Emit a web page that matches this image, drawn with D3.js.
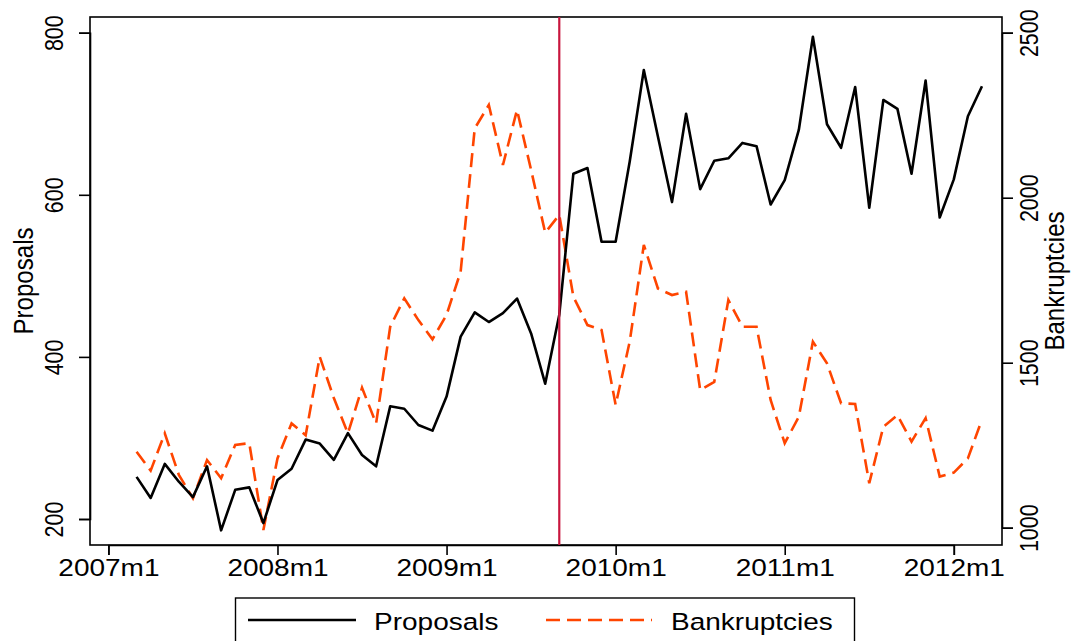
<!DOCTYPE html>
<html>
<head>
<meta charset="utf-8">
<script src="https://cdn.jsdelivr.net/npm/d3@7"></script>
<style>
  body { margin: 0; background: #fff; }
  text { font-family: "Liberation Sans", Arial, sans-serif; fill: #000; }
</style>
</head>
<body>
<svg id="chart" width="1076" height="641"></svg>
<script>

// monthly series, 2007m3 .. 2012m3
var startMonth = 2;   // months after 2007m1
var proposals = [252, 226, 268, 246, 227, 265, 186, 236, 239, 195,
  248, 262, 298, 293, 273, 306, 279, 265, 339, 336,
  316, 309, 351, 425, 455, 443, 454, 472, 429, 367,
  452, 626, 633, 542, 542, 641, 754, 672, 591, 700,
  607, 642, 645, 664, 660, 588, 618, 680, 795, 687,
  658, 733, 584, 717, 706, 626, 741, 572, 619, 697, 734];
var bankruptcies = [1230, 1173, 1286, 1160, 1089, 1205, 1150, 1251, 1256, 993,
  1210, 1316, 1280, 1518, 1393, 1286, 1424, 1316, 1609, 1695,
  1629, 1571, 1645, 1776, 2210, 2281, 2099, 2266, 2084, 1894,
  1948, 1700, 1614, 1599, 1372, 1564, 1857, 1725, 1705, 1715,
  1417, 1442, 1690, 1609, 1609, 1387, 1256, 1336, 1564, 1498,
  1377, 1375, 1135, 1306, 1341, 1261, 1332, 1155, 1167, 1210, 1328];
var yearTicks = [0, 12, 24, 36, 48, 60];
var yearLabels = ["2007m1", "2008m1", "2009m1", "2010m1", "2011m1", "2012m1"];
var leftTicks = [200, 400, 600, 800];
var rightTicks = [1000, 1500, 2000, 2500];
var eventMonth = 32;  // 2009m9

var months = d3.range(proposals.length).map(function(i) { return startMonth + i; });

var svg = d3.select("#chart");
var pLeft = 90, pRight = 1002, pTop = 17, pBottom = 545;
var sy = 0.86; // the picture is a bit squashed vertically

var x = d3.scaleLinear().domain([0, 60]).range([108.4, 953.8]);
var yL = d3.scaleLinear().domain([200, 800]).range([519, 32.7]);
var yR = d3.scaleLinear().domain([1000, 2500]).range([527.7, 32.7]);

// frame
svg.append("rect")
  .attr("x", pLeft).attr("y", pTop)
  .attr("width", pRight - pLeft).attr("height", pBottom - pTop)
  .attr("fill", "none").attr("stroke", "#000").attr("stroke-width", 1.6);

// axes
var gl = svg.append("g").attr("transform", "translate(" + pLeft + ",0)")
  .call(d3.axisLeft(yL).tickValues(leftTicks).tickSize(11).tickFormat(d3.format("d")));
gl.selectAll("text")
  .attr("x", null).attr("dy", null)
  .style("font-size", "25px")
  .attr("text-anchor", "middle")
  .attr("transform", "translate(-27,0) scale(1," + sy + ") rotate(-90)");

var gr = svg.append("g").attr("transform", "translate(" + pRight + ",0)")
  .call(d3.axisRight(yR).tickValues(rightTicks).tickSize(11).tickFormat(d3.format("d")));
gr.selectAll("text")
  .attr("x", null).attr("dy", null)
  .style("font-size", "25px")
  .attr("text-anchor", "middle")
  .attr("transform", "translate(36,0) scale(1," + sy + ") rotate(-90)");

var gx = svg.append("g").attr("transform", "translate(0," + pBottom + ")")
  .call(d3.axisBottom(x).tickValues(yearTicks).tickSize(10)
    .tickFormat(function(d) { return yearLabels[yearTicks.indexOf(d)]; }));
gx.selectAll("text")
  .attr("y", null).attr("dy", null)
  .style("font-size", "28px")
  .attr("transform", "translate(0,31) scale(1," + sy + ")");

svg.selectAll(".domain").attr("stroke-width", 1.6);
svg.selectAll(".tick line").attr("stroke-width", 1.6);

// axis titles
var midY = (pTop + pBottom) / 2;
svg.append("text")
  .attr("transform", "translate(33," + midY + ") scale(1," + sy + ") rotate(-90)")
  .attr("text-anchor", "middle").style("font-size", "28px")
  .text("Proposals");
svg.append("text")
  .attr("transform", "translate(1064," + midY + ") scale(1," + sy + ") rotate(-90)")
  .attr("text-anchor", "middle").style("font-size", "28px")
  .text("Bankruptcies");

// lines
var lineL = d3.line()
  .x(function(d, i) { return x(months[i]); })
  .y(function(d) { return yL(d); });
var lineR = d3.line()
  .x(function(d, i) { return x(months[i]); })
  .y(function(d) { return yR(d); });

svg.append("path").datum(bankruptcies)
  .attr("d", lineR)
  .attr("fill", "none").attr("stroke", "#ff4500")
  .attr("stroke-width", 2.6).attr("stroke-dasharray", "14,7");

svg.append("path").datum(proposals)
  .attr("d", lineL)
  .attr("fill", "none").attr("stroke", "#000")
  .attr("stroke-width", 2.6).attr("stroke-linejoin", "round");

// event line
svg.append("line")
  .attr("x1", x(eventMonth)).attr("x2", x(eventMonth))
  .attr("y1", pTop).attr("y2", pBottom)
  .attr("stroke", "#c8163e").attr("stroke-width", 2.2);

// legend
var lg = svg.append("g");
lg.append("rect")
  .attr("x", 235.5).attr("y", 598).attr("width", 619).attr("height", 60)
  .attr("fill", "#fff").attr("stroke", "#000").attr("stroke-width", 1.4);
lg.append("line")
  .attr("x1", 248).attr("x2", 356).attr("y1", 620).attr("y2", 620)
  .attr("stroke", "#000").attr("stroke-width", 2.6);
lg.append("text")
  .attr("transform", "translate(374,630) scale(1," + sy + ")")
  .style("font-size", "28px").text("Proposals");
lg.append("line")
  .attr("x1", 546).attr("x2", 652).attr("y1", 620).attr("y2", 620)
  .attr("stroke", "#ff4500").attr("stroke-width", 2.6).attr("stroke-dasharray", "14,7");
lg.append("text")
  .attr("transform", "translate(671,630) scale(1," + sy + ")")
  .style("font-size", "28px").text("Bankruptcies");

</script>
</body>
</html>
